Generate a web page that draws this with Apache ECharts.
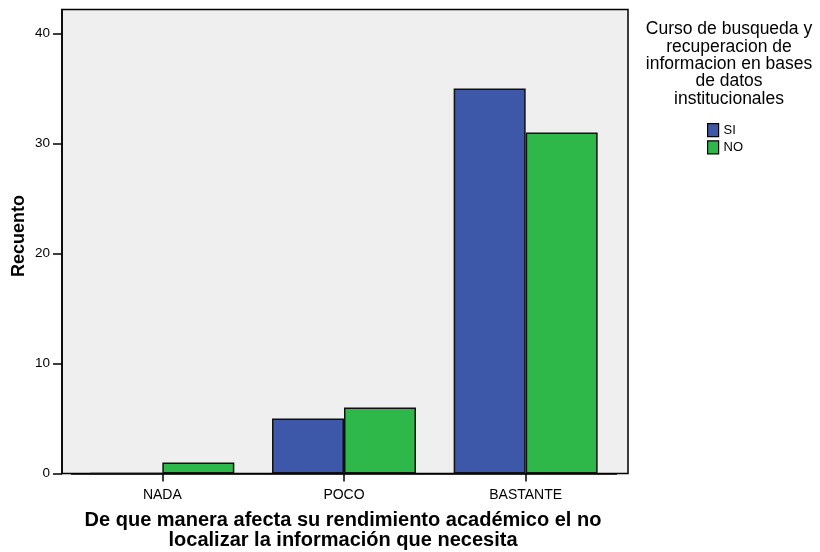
<!DOCTYPE html>
<html>
<head>
<meta charset="utf-8">
<script src="https://cdn.jsdelivr.net/npm/echarts@6/dist/echarts.min.js"></script>
<style>html,body{margin:0;padding:0;background:#fff}#c{width:820px;height:552px}</style>
</head>
<body>
<div id="c"></div>
<script>
var categories = ['NADA', 'POCO', 'BASTANTE'];
var seriesNames = ['SI', 'NO'];
var valuesSI = [0, 5, 35];
var valuesNO = [1, 6, 31];
var yTicks = [0, 10, 20, 30, 40];
var legendTitle = 'Curso de busqueda y\nrecuperacion de\ninformacion en bases\nde datos\ninstitucionales';
var xTitle = 'De que manera afecta su rendimiento académico el no\nlocalizar la información que necesita';
var yTitle = 'Recuento';

var FONT = '"Liberation Sans", Arial, sans-serif';
var yMax = 42.18;
var chart = echarts.init(document.getElementById('c'), null, {renderer: 'canvas'});
chart.setOption({
  animation: false,
  backgroundColor: '#ffffff',
  textStyle: {fontFamily: FONT},
  grid: [
    {left: 62, top: 9.5, width: 566, height: 464, show: true, backgroundColor: '#efefef', borderColor: '#000', borderWidth: 1.5},
    {left: 71.5, top: 9.5, width: 545, height: 464}
  ],
  xAxis: [
    {gridIndex: 0, type: 'value', min: 0, max: 1, show: false},
    {gridIndex: 1, type: 'category', data: categories,
      axisLine: {show: true, lineStyle: {color: '#000', width: 1.5}},
      axisTick: {show: true, alignWithLabel: true, length: 8, lineStyle: {color: '#000', width: 1.5}},
      axisLabel: {color: '#000', fontSize: 14, fontFamily: FONT, margin: 15},
      splitLine: {show: false}}
  ],
  yAxis: [
    {gridIndex: 0, type: 'value', min: 0, max: yMax, interval: 10,
      axisLine: {show: true, lineStyle: {color: '#000', width: 1.5}},
      axisTick: {show: true, length: 9, customValues: yTicks, lineStyle: {color: '#000', width: 1.5}},
      axisLabel: {color: '#000', fontSize: 13.5, fontFamily: FONT, margin: 12,
        customValues: yTicks},
      splitLine: {show: false}},
    {gridIndex: 1, type: 'value', min: 0, max: yMax, show: false}
  ],
  legend: {
    orient: 'vertical', left: 707, top: 123, itemGap: 3, padding: 0,
    itemWidth: 11, itemHeight: 13, icon: 'rect',
    textStyle: {color: '#000', fontSize: 13, fontFamily: FONT},
    itemStyle: {borderColor: '#000', borderWidth: 1.2},
    data: seriesNames
  },
  series: [
    {name: seriesNames[0], type: 'bar', xAxisIndex: 1, yAxisIndex: 1, data: valuesSI,
      barGap: '0%', barWidth: 72,
      itemStyle: {color: '#3e58a9', borderColor: '#111', borderWidth: 1.5}},
    {name: seriesNames[1], type: 'bar', xAxisIndex: 1, yAxisIndex: 1, data: valuesNO,
      barGap: '0%', barWidth: 72,
      itemStyle: {color: '#2fb84a', borderColor: '#111', borderWidth: 1.5}}
  ],
  graphic: [
    {type: 'text', x: 729, y: 21, style: {text: legendTitle, fill: '#000', font: '17.5px ' + FONT, textAlign: 'center', textVerticalAlign: 'top', lineHeight: 17.3}},
    {type: 'text', x: 343, y: 511, style: {text: xTitle, fill: '#000', font: 'bold 20px ' + FONT, textAlign: 'center', textVerticalAlign: 'top', lineHeight: 19.5}},
    {type: 'text', x: 19, y: 236, rotation: Math.PI / 2, style: {text: yTitle, fill: '#000', font: 'bold 18px ' + FONT, textAlign: 'center', textVerticalAlign: 'middle'}}
  ]
});
</script>
</body>
</html>
